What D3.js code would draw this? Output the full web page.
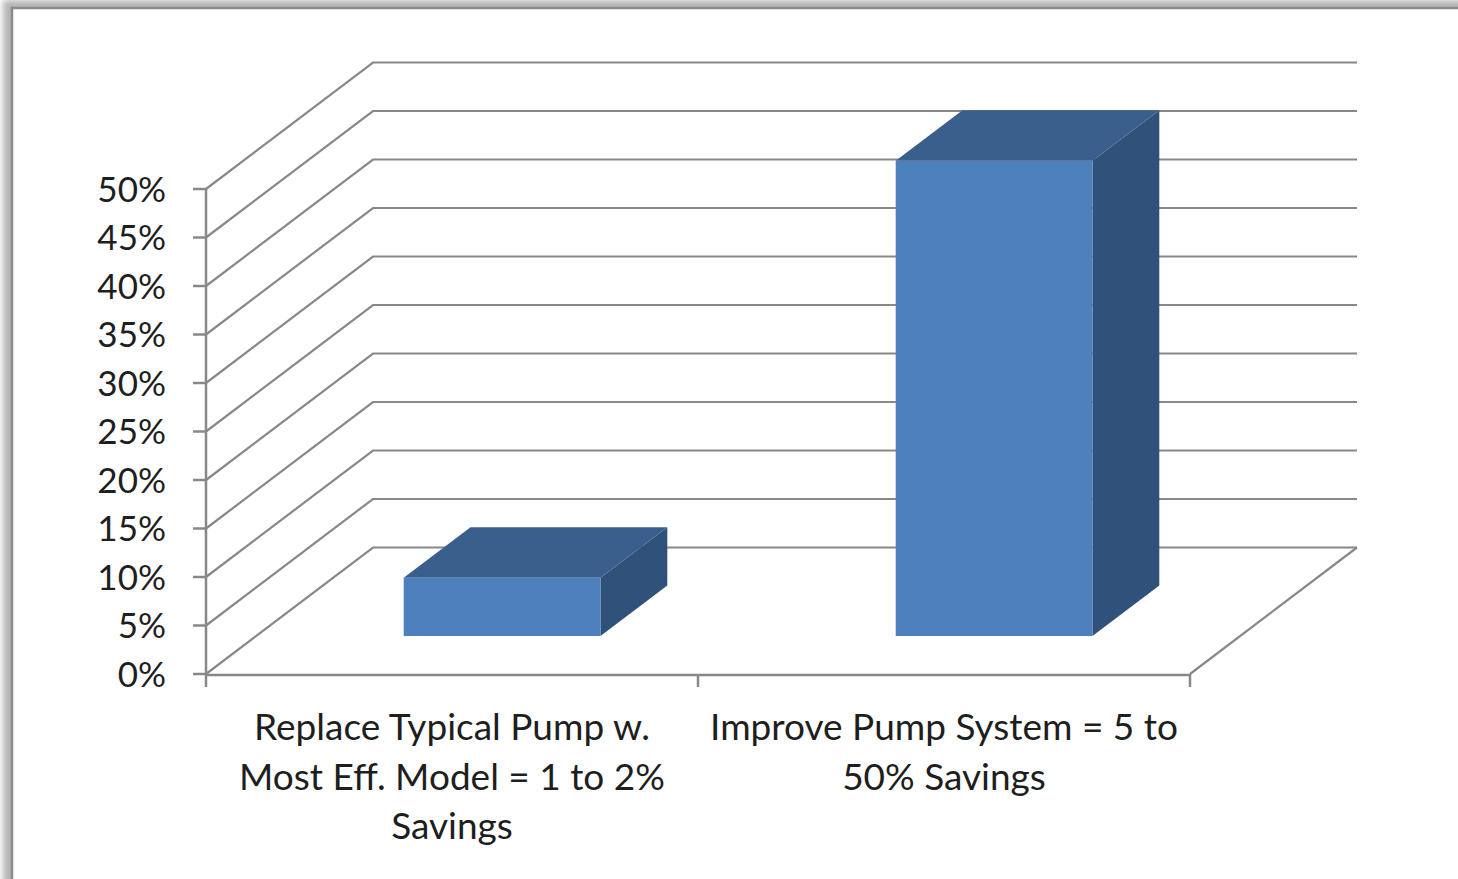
<!DOCTYPE html>
<html>
<head>
<meta charset="utf-8">
<script src="https://cdnjs.cloudflare.com/ajax/libs/d3/7.8.5/d3.min.js"></script>
<style>
  html, body { margin: 0; padding: 0; background: #fff; }
  svg { display: block; }
  text { font-family: Lato, "Open Sans", sans-serif; fill: #1e1e1e; }
</style>
</head>
<body>
<svg id="chart" width="1458" height="879"></svg>
<script>
// Savings by measure (fraction of pump energy)
const categories = ["replace", "improve"];
const categoryLines = [
  ["Replace Typical Pump w.", "Most Eff. Model = 1 to 2%", "Savings"],
  ["Improve Pump System = 5 to", "50% Savings"]
];
const savings = [0.06, 0.49];
const yTicks = [0, 0.05, 0.10, 0.15, 0.20, 0.25, 0.30, 0.35, 0.40, 0.45, 0.50];

const W = 1458, H = 879;
const svg = d3.select("#chart");

// Oblique 3D projection: depth z in [0,1] shifts points right and up
const DEPTH_DX = 167, DEPTH_DY = -126.5;
const x = d3.scaleBand().domain(categories).range([206, 1190]).paddingInner(0).paddingOuter(0);
const y = d3.scaleLinear().domain([0, 0.5]).range([674, 189]);
const proj = (px, v, z) => [px + z * DEPTH_DX, y(v) + z * DEPTH_DY];

// Frame with soft shadow
const defs = svg.append("defs");
const f = defs.append("filter").attr("id", "soft").attr("x", "-5%").attr("y", "-5%").attr("width", "110%").attr("height", "110%");
f.append("feGaussianBlur").attr("stdDeviation", 3);
svg.append("rect").attr("x", 3).attr("y", 0).attr("width", W + 40).attr("height", H + 40)
  .attr("fill", "#b4b4b4").attr("filter", "url(#soft)");
svg.append("rect").attr("x", 12).attr("y", 8).attr("width", W + 40).attr("height", H + 40)
  .attr("fill", "#fff").attr("stroke", "#8a8a8a").attr("stroke-width", 2.5);

const grid = svg.append("g").attr("fill", "none").attr("stroke", "#888").attr("stroke-width", 2.2);
const x0 = x.range()[0], x1 = x.range()[1];

// Side wall + back wall gridlines
yTicks.forEach(v => {
  const a = proj(x0, v, 0), b = proj(x0, v, 1), c = proj(x1, v, 1);
  grid.append("path").attr("d", d3.line()([a, b, c]));
});
// Floor right edge
grid.append("path").attr("d", d3.line()([proj(x1, 0, 0), proj(x1, 0, 1)]));

// Value axis
const axisG = svg.append("g");
axisG.append("line").attr("x1", x0).attr("x2", x0).attr("y1", y(0.5)).attr("y2", y(0) + 1)
  .attr("stroke", "#888").attr("stroke-width", 2.5);
yTicks.forEach(v => {
  axisG.append("line").attr("x1", x0 - 13).attr("x2", x0).attr("y1", y(v)).attr("y2", y(v))
    .attr("stroke", "#888").attr("stroke-width", 2.5);
  axisG.append("text").attr("x", 166).attr("y", y(v)).attr("dy", "0.36em")
    .attr("text-anchor", "end").attr("font-size", 35)
    .text(d3.format(".0%")(v));
});

// Category axis
axisG.append("line").attr("x1", x0).attr("x2", x1).attr("y1", y(0) + 1).attr("y2", y(0) + 1)
  .attr("stroke", "#888").attr("stroke-width", 2.5);
const catTicks = categories.map(c => x(c)).concat([x1]);
catTicks.forEach(t => {
  axisG.append("line").attr("x1", t).attr("x2", t).attr("y1", y(0)).attr("y2", y(0) + 13)
    .attr("stroke", "#888").attr("stroke-width", 2.5);
});
categories.forEach((c, i) => {
  const t = axisG.append("text").attr("x", x(c) + x.bandwidth() / 2).attr("y", 740)
    .attr("text-anchor", "middle").attr("font-size", 37);
  categoryLines[i].forEach((ln, k) => {
    t.append("tspan").attr("x", x(c) + x.bandwidth() / 2).attr("y", 740 + k * 49.5).text(ln);
  });
});

// 3D bars: front, top and right side faces
const barFrac = 0.4, zFront = 0.3, zBack = 0.7;
const bars = svg.append("g");
categories.forEach((c, i) => {
  const v = savings[i];
  const bl = x(c) + x.bandwidth() * (1 - barFrac) / 2;
  const br = bl + x.bandwidth() * barFrac;
  const P = (px, val, z) => proj(px, val, z);
  const front = [P(bl, 0, zFront), P(br, 0, zFront), P(br, v, zFront), P(bl, v, zFront)];
  const top = [P(bl, v, zFront), P(br, v, zFront), P(br, v, zBack), P(bl, v, zBack)];
  const side = [P(br, 0, zFront), P(br, 0, zBack), P(br, v, zBack), P(br, v, zFront)];
  const poly = pts => "M" + pts.map(p => p.join(",")).join("L") + "Z";
  bars.append("path").attr("d", poly(side)).attr("fill", "#30527a");
  bars.append("path").attr("d", poly(top)).attr("fill", "#3b5f8c");
  bars.append("path").attr("d", poly(front)).attr("fill", "#4d80bd");
});
</script>
</body>
</html>
